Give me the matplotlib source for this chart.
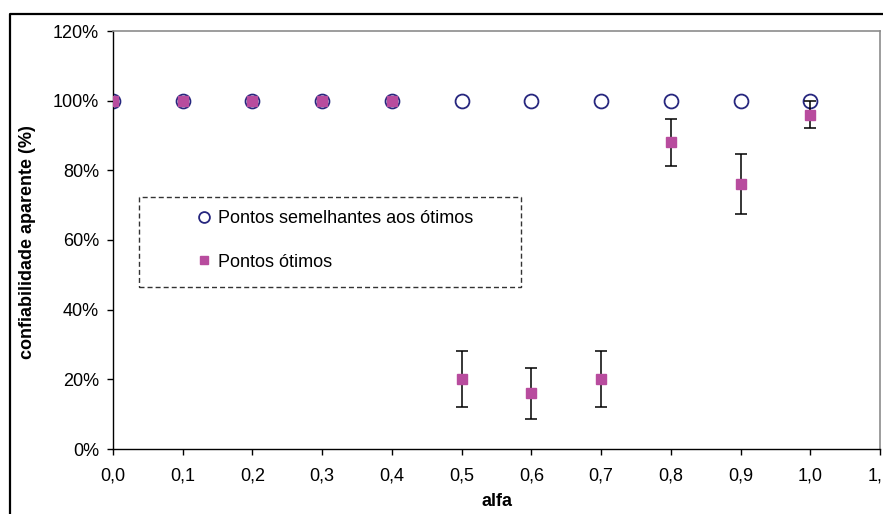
import numpy as np
import matplotlib
matplotlib.use("Agg")
import matplotlib.pyplot as plt
from matplotlib.patches import Rectangle
from matplotlib.lines import Line2D

plt.rcParams["font.family"] = ["Liberation Sans", "DejaVu Sans"]
plt.rcParams["font.size"] = 13

# data
alfa = [0.0, 0.1, 0.2, 0.3, 0.4, 0.5, 0.6, 0.7, 0.8, 0.9, 1.0]
semelhantes = [100, 100, 100, 100, 100, 100, 100, 100, 100, 100, 100]
otimos = [100, 100, 100, 100, 100, 20, 16, 20, 88, 76, 96]
erro = [0, 0, 0, 0, 0, 8, 7.3, 8, 6.7, 8.6, 3.9]

x_ticks = [0.0, 0.1, 0.2, 0.3, 0.4, 0.5, 0.6, 0.7, 0.8, 0.9, 1.0, 1.1]
x_ticklabels = ["0,0", "0,1", "0,2", "0,3", "0,4", "0,5", "0,6", "0,7",
                "0,8", "0,9", "1,0", "1,1"]
y_ticks = [0, 20, 40, 60, 80, 100, 120]
y_ticklabels = ["0%", "20%", "40%", "60%", "80%", "100%", "120%"]

C_CIRC = "#26267e"
C_SQ = "#b84c9e"

W, H = 883, 514
fig = plt.figure(figsize=(W / 100, H / 100), dpi=100)
ax = fig.add_axes([113 / W, 1 - 449 / H, (880 - 113) / W, (449 - 31) / H])

ax.plot(alfa, semelhantes, "o", ms=10, mfc="none", mec=C_CIRC, mew=1.3,
        zorder=2, label="Pontos semelhantes aos ótimos")

x = np.array(alfa)
y = np.array(otimos)
e = np.array(erro)
m = e > 0
ax.errorbar(x[m], y[m], yerr=e[m], fmt="none", ecolor="black",
            elinewidth=1.1, capsize=4.2, capthick=1.1, zorder=3)
ax.plot(alfa, otimos, "s", ms=6.5, color=C_SQ, zorder=4, label="Pontos ótimos")

ax.set_xlim(0, 1.1)
ax.set_ylim(0, 120)
ax.set_xticks(x_ticks)
ax.set_xticklabels(x_ticklabels)
ax.set_yticks(y_ticks)
ax.set_yticklabels(y_ticklabels)
ax.tick_params(axis="both", direction="out", length=4, width=1, colors="black")
ax.tick_params(axis="x", pad=9)
ax.tick_params(axis="y", pad=6)

for s in ["left", "bottom"]:
    ax.spines[s].set_color("black")
    ax.spines[s].set_linewidth(1.0)
for s in ["top", "right"]:
    ax.spines[s].set_color("#8c8c8c")
    ax.spines[s].set_linewidth(1.2)

ax.set_xlabel("alfa", fontweight="bold")
ax.xaxis.set_label_coords(0.5, -0.105)
ax.set_ylabel("confiabilidade aparente (%)", fontweight="bold")
ax.yaxis.set_label_coords(-0.1, 0.494)

# legend without frame, dashed box drawn separately
leg = ax.legend(loc="center left", bbox_to_anchor=(186 / W, 1 - 240.5 / H),
                bbox_transform=fig.transFigure, frameon=False, borderpad=0,
                handlelength=1.0, handletextpad=0.25, labelspacing=1.45,
                markerscale=0.78)
fig.add_artist(Rectangle((139 / W, 1 - 287 / H), (521 - 139) / W, 90 / H,
                         transform=fig.transFigure, fill=False,
                         edgecolor="#333333", lw=1.0, ls=(0, (3.6, 2.2))))

# outer chart frame (cut off at right and bottom)
fig.add_artist(Line2D([10 / W, 10 / W, 1], [0, 1 - 14 / H, 1 - 14 / H],
                      transform=fig.transFigure, color="black", lw=1.6))

fig.savefig("out.png", dpi=100)
